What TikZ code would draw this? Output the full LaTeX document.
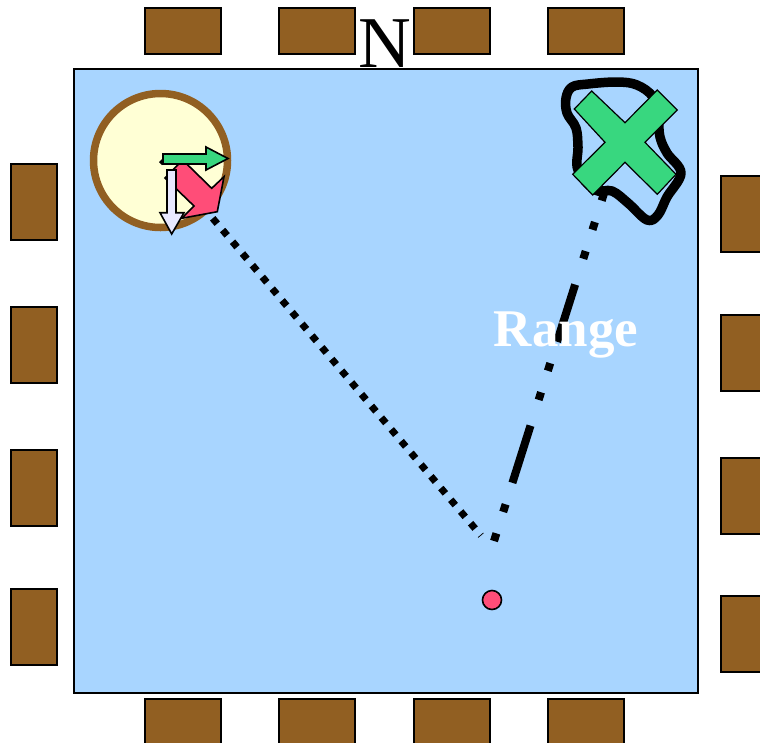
\documentclass[tikz,border=0pt]{standalone}
\usepackage{fontspec}
\setmainfont{Liberation Serif}
\definecolor{water}{HTML}{A8D5FF}
\definecolor{bench}{HTML}{915F22}
\definecolor{cream}{HTML}{FFFFD5}
\definecolor{mint}{HTML}{38D77F}
\definecolor{rose}{HTML}{FF4D78}
\definecolor{pale}{HTML}{E8E8FF}
\tikzset{
  x=1pt,y=-1pt,
  benchbox/.style={draw=black,line width=1.5pt,fill=bench},
  outlined/.style={draw=black,line width=1.6pt,line join=miter},
}
\begin{document}
\begin{tikzpicture}
\useasboundingbox (0,0) rectangle (760,742);
\clip (0,0) rectangle (760,742);
\fill[white] (0,0) rectangle (760,742);
% benches
\foreach \x in {145,279,414,548}{
  \draw[benchbox] (\x,8) rectangle ++(76,46);
  \draw[benchbox] (\x,699) rectangle ++(76,46);
}
\foreach \y in {164,307,450,589}{
  \draw[benchbox] (11,\y) rectangle ++(46,76);
}
\foreach \y in {176,315,458,596}{
  \draw[benchbox] (721,\y) rectangle ++(46,76);
}
% pool
\draw[fill=water,draw=black,line width=1.6pt] (74,69) rectangle (698,693);
\node[font=\fontsize{73}{73}\selectfont,anchor=base,inner sep=0pt] (north) at (385,67.5) {N};
% start circle
\draw[draw=bench,fill=cream,line width=7.5pt] (160.5,160.5) circle[radius=67];
% tracks
\draw[line width=7pt,dash pattern=on 7pt off 8.36pt] (212.7,218.3) -- (481,535.5);
\draw[line width=8pt,dash pattern=on 8pt off 22.5pt on 8pt off 22.5pt on 60pt off 27pt]
  (494,541) -- (606,187);
% scribble
\draw[line width=9.5pt,line join=round] plot[smooth cycle,tension=0.6] coordinates {
 (588,84) (572,87) (566,98) (567,113) (576,128) (578,147) (578,170)
 (595,190) (612,191) (628,203) (647,220) (658,215) (667,197) (681,173)
 (667,153) (660,137) (658,117) (653,97) (637,85) (617,82)};
% target cross
\draw[outlined,fill=mint,line width=1.2pt] (591.7,91) -- (625,122.7) -- (657.3,90) -- (677.3,110)
  -- (645,142.3) -- (676,174.3) -- (657.3,194.3) -- (625,162.3) -- (592.7,195)
  -- (572.7,174.3) -- (605,142.3) -- (574.3,109) -- cycle;
% swimmer arrows
\fill[black] (162,159) -- (165,162) -- (162,165) -- (159,162) -- cycle;
\draw[outlined,fill=rose] (182.7,160) -- (211.7,188.3) -- (224,176.7) -- (217.3,211.7)
  -- (181.7,218.3) -- (194,206) -- (165,178) -- cycle;
\draw[outlined,fill=mint] (163,154) -- (206,154) -- (206,147) -- (228,158.5) -- (206,170)
  -- (206,164) -- (163,164) -- cycle;
\draw[outlined,fill=pale] (167,170) -- (176,170) -- (176,212.7) -- (184,212.7) -- (171.7,234)
  -- (160,212.7) -- (167,212.7) -- cycle;
% platform marker
\draw[fill=rose,draw=black,line width=1.6pt] (492,600) circle[radius=9.5];
\node[font=\fontsize{53}{53}\selectfont\bfseries,text=white,anchor=base,inner sep=0pt] (range) at (566,346.5) {Range};
\end{tikzpicture}
\end{document}
